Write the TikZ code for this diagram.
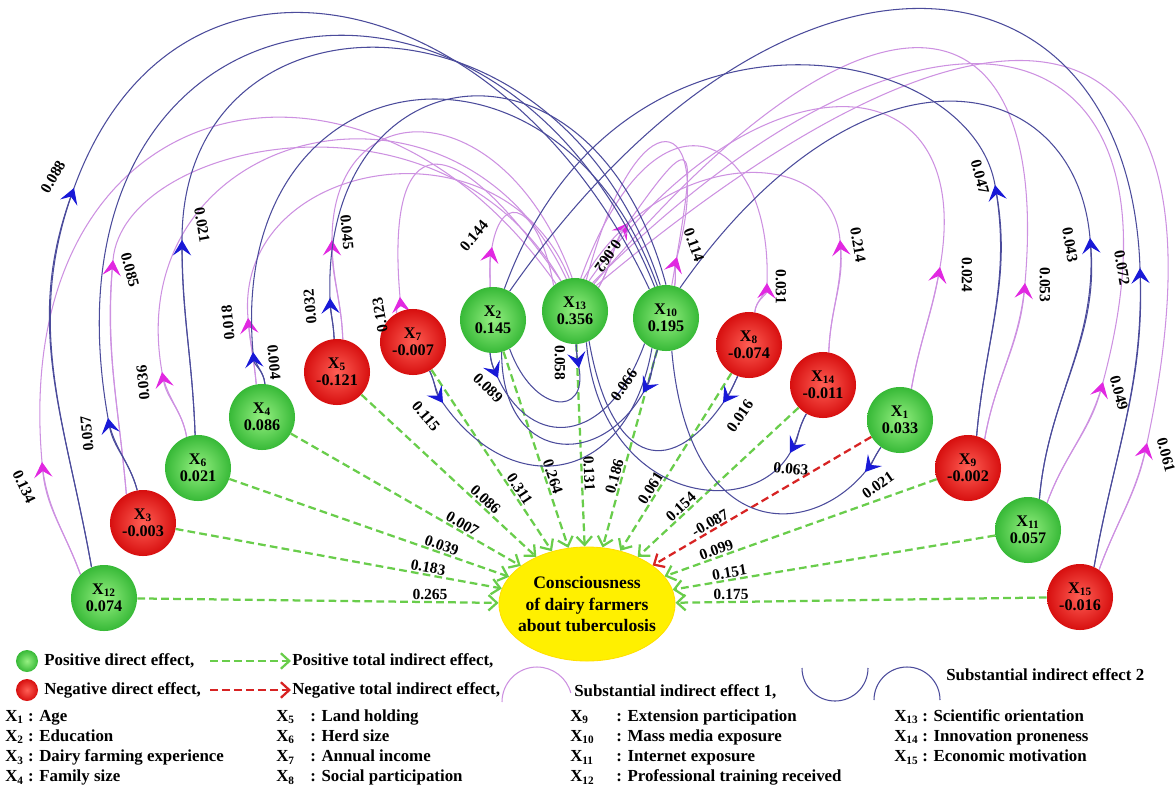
\documentclass[tikz,border=0pt]{standalone}
\usepackage{fontspec}
\setmainfont{Liberation Serif}
\usetikzlibrary{arrows.meta,shapes.geometric,backgrounds}
\definecolor{nodegreen}{RGB}{55,185,55}
\definecolor{lightgreen}{RGB}{150,240,130}
\definecolor{nodered}{RGB}{215,15,15}
\definecolor{lightred}{RGB}{255,95,85}
\definecolor{dashgreen}{RGB}{105,205,75}
\definecolor{dashred}{RGB}{215,35,35}
\definecolor{pinkline}{RGB}{205,145,225}
\definecolor{pinkhead}{RGB}{225,40,225}
\definecolor{blueline}{RGB}{75,75,155}
\definecolor{bluehead}{RGB}{25,25,215}
\definecolor{ellyellow}{RGB}{255,240,0}
\begin{document}
\begin{tikzpicture}[x=0.025cm, y=0.025cm, font=\bfseries]
	\tikzstyle{posnode} = [circle, minimum size=1.65cm, inner sep=0pt, align=center, shading=radial, inner color=lightgreen, outer color=nodegreen, font=\bfseries\fontsize{11.5}{12.5}\selectfont]
	\tikzstyle{negnode} = [posnode, inner color=lightred, outer color=nodered]
	\tikzstyle{posarrow} = [draw=dashgreen, line width=1.6pt, dash pattern=on 5.5pt off 3pt, -{Straight Barb[length=6pt, width=11pt]}]
	\tikzstyle{negarrow} = [posarrow, draw=dashred]
	\tikzstyle{efflabel} = [sloped, above, inner sep=0.8pt, font=\bfseries\fontsize{11}{12}\selectfont]
	\tikzstyle{arclabel} = [inner sep=0pt, font=\bfseries\fontsize{11}{12}\selectfont]
	\tikzstyle{pinkarc} = [draw=pinkline, line width=0.75pt]
	\tikzstyle{bluearc} = [draw=blueline, line width=0.75pt]
	\tikzstyle{pinktip} = [-{Stealth[length=11pt, width=13pt, inset=4.5pt, color=pinkhead]}]
	\tikzstyle{bluetip} = [-{Stealth[length=11pt, width=13pt, inset=4.5pt, color=bluehead]}]
	\tikzstyle{legtext} = [inner sep=0pt, font=\bfseries\fontsize{12}{14}\selectfont]

	\useasboundingbox (0,0) rectangle (1176,-796);

	% variables with their direct effects
	\foreach \n/\x/\y/\v/\s in {12/104/598/0.074/posnode, 3/143/523/-0.003/negnode, 6/198/468/0.021/posnode, 4/262/417/0.086/posnode, 5/337/372/-0.121/negnode, 7/413/342/-0.007/negnode, 2/493/320/0.145/posnode, 13/575/311/0.356/posnode, 10/666/318/0.195/posnode, 8/749/345/-0.074/negnode, 14/823/385/-0.011/negnode, 1/900/420/0.033/posnode, 9/968/468/-0.002/negnode, 11/1028/530/0.057/posnode, 15/1080/597/-0.016/negnode}
		\node[\s] (X\n) at (\x,-\y) {X\textsubscript{\n}\\\v};

	\node[ellipse, minimum width=4.4cm, minimum height=2.85cm, fill=ellyellow, draw=ellyellow!85!orange, line width=0.6pt] (C) at (587,-604) {};
	\node[align=center, font=\bfseries\fontsize{12.5}{15.5}\selectfont] (Ctext) at (C) {Consciousness\\of dairy farmers\\about tuberculosis};

	\begin{scope}[on background layer]
		% total indirect effects
		\foreach \n/\p/\v in {12/0.81/0.265, 3/0.77/0.183, 6/0.75/0.039, 4/0.73/0.007, 5/0.68/0.086, 7/0.68/0.311, 2/0.65/0.264, 13/0.64/0.131, 10/0.65/0.186, 8/0.67/0.061, 14/0.70/0.154, 9/0.80/0.099, 11/0.82/0.151, 15/0.85/0.175}
			\draw[posarrow] (X\n) -- (C) node[efflabel, pos=\p] {\v};
		\draw[negarrow] (X1) -- (C) node[efflabel, pos=0.72] {-0.087};

		% substantial indirect effect 1
		\foreach \src/\so/\ax/\ay/\ta/\la/\tgt/\tb/\lb [evaluate=\ta as \tin using \ta+180] in {
			X12.135/110/42/462/95/380/X13.125/125/340, X3.120/95/113/260/85/120/X13.115/120/240,
			X6.110/100/162/372/100/250/X13.105/115/260, X4.100/95/248/318/95/160/X13.100/112/180,
			X5.80/92/332/240/90/150/X13.95/110/200, X7.120/95/400/297/95/150/X13.115/125/220,
			X2.95/90/492/247/80/60/X13.130/100/80, X13.45/60/628/223/55/120/X10.80/80/150,
			X10.75/80/677/257/75/150/X13.70/75/200, X8.80/85/767/283/88/150/X13.80/70/220,
			X14.80/88/840/240/95/100/X13.75/60/150, X1.70/80/940/267/80/220/X13.65/55/280,
			X9.60/80/1025/283/85/300/X13.55/50/430, X11.55/70/1103/382/75/380/X13.58/45/480,
			X15.55/70/1147/443/78/450/X13.50/40/550}
		{
			\draw[pinkarc] (\src) to[out=\so, in=\tin] (\ax,-\ay) .. controls +(\ta:\la) and +(\tb:\lb) .. (\tgt);
			\draw[pinkarc, pinktip] (\src) to[out=\so, in=\tin] (\ax,-\ay);
		}

		% substantial indirect effect 2
		\foreach \src/\so/\ax/\ay/\ta/\la/\tgt/\tb/\lb [evaluate=\ta as \tin using \ta+180] in {
			X12.112/100/74/188/70/300/X10.120/115/340, X3.100/105/108/418/100/450/X10.110/112/420,
			X6.95/92/182/240/90/260/X10.100/108/330, X4.85/95/253/352/95/300/X10.105/110/300,
			X5.95/92/330/298/92/250/X10.90/105/280, X9.75/85/995/185/100/150/X2.70/70/330,
			X11.70/85/1090/238/95/170/X10.65/55/320, X15.65/80/1140/268/92/330/X2.60/55/480,
			X7.-60/-65/443/403/-55/120/X10.-115/-100/140, X2.-95/-85/498/378/-65/80/X10.-130/-110/110,
			X13.-88/-88/579/368/-80/50/X2.-60/-70/70, X10.-105/-110/643/393/-120/90/X2.-75/-90/110,
			X8.-110/-115/723/403/-125/100/X13.-65/-80/120, X14.-120/-120/790/453/-120/80/X13.-70/-85/160,
			X1.-125/-125/865/472/-130/90/X10.-80/-85/190}
		{
			\draw[bluearc] (\src) to[out=\so, in=\tin] (\ax,-\ay) .. controls +(\ta:\la) and +(\tb:\lb) .. (\tgt);
			\draw[bluearc, bluetip] (\src) to[out=\so, in=\tin] (\ax,-\ay);
		}
	\end{scope}

	% values on the arcs
	\foreach \lx/\ly/\lr/\lv [count=\i] in {24/487/-65/0.134, 130/270/-75/0.085, 143/383/95/0.036, 228/323/95/0.018, 347/232/-85/0.045, 380/315/100/0.123, 474/236/50/0.144, 608/256/-125/0.062, 694/245/-70/0.114, 781/287/-90/0.031, 858/245/-80/0.214, 967/275/-90/0.024, 1045/285/-90/0.053, 1119/393/-75/0.049, 1166/455/-75/0.061,
		53/177/60/0.088, 87/434/95/0.057, 202/225/-80/0.021, 274/362/-85/0.004, 310/307/95/0.032, 980/177/-75/0.047, 1070/245/-80/0.043, 1122/268/-80/0.072,
		426/416/-50/0.115, 488/388/-45/0.089, 560/363/-90/0.058, 624/385/55/0.066, 740/416/55/0.016, 791/469/-5/0.063, 878/485/35/0.021}
		\node[arclabel, rotate=\lr] (arcl\i) at (\lx,-\ly) {\lv};

	% legend
	\node[circle, minimum size=0.55cm, shading=radial, inner color=lightgreen, outer color=nodegreen] (kpos) at (27,-661) {};
	\node[legtext, anchor=west] (kpost) at (44,-661) {Positive direct effect,};
	\node[circle, minimum size=0.55cm, shading=radial, inner color=lightred, outer color=nodered] (kneg) at (27,-690) {};
	\node[legtext, anchor=west] (knegt) at (44,-690) {Negative direct effect,};
	\coordinate (kga) at (210,-661);
	\coordinate (kgb) at (291,-661);
	\draw[posarrow] (kga) -- (kgb);
	\node[legtext, anchor=west] (kgt) at (292,-661) {Positive total indirect effect,};
	\coordinate (kra) at (210,-690);
	\coordinate (krb) at (291,-690);
	\draw[negarrow] (kra) -- (krb);
	\node[legtext, anchor=west] (krt) at (292,-690) {Negative total indirect effect,};
	\draw[pinkarc] (502,-702) arc[start angle=180, end angle=15, radius=35];
	\node[legtext, anchor=west] (k1t) at (574,-692) {Substantial indirect effect 1,};
	\draw[bluearc] (802,-668) arc[start angle=180, end angle=360, radius=33];
	\draw[bluearc] (874,-700) arc[start angle=180, end angle=0, radius=33];
	\node[legtext, anchor=west] (k2t) at (946,-675) {Substantial indirect effect 2};

	\foreach \i/\txt [count=\k] in {1/Age, 2/Education, 3/Dairy farming experience, 4/Family size}
		\node[legtext, anchor=base west] (key\i) at (5,{-721-20.3*(\k-1)}) {X\textsubscript{\i} : \txt};
	\foreach \i/\txt [count=\k] in {5/Land holding, 6/Herd size, 7/Annual income, 8/Social participation}
	{
		\node[legtext, anchor=base west] (key\i) at (276,{-721-20.3*(\k-1)}) {X\textsubscript{\i}};
		\node[legtext, anchor=base west] (def\i) at (310,{-721-20.3*(\k-1)}) {: \txt};
	}
	\foreach \i/\txt [count=\k] in {9/Extension participation, 10/Mass media exposure, 11/Internet exposure, 12/Professional training received}
	{
		\node[legtext, anchor=base west] (key\i) at (570,{-721-20.3*(\k-1)}) {X\textsubscript{\i}};
		\node[legtext, anchor=base west] (def\i) at (616,{-721-20.3*(\k-1)}) {: \txt};
	}
	\foreach \i/\txt [count=\k] in {13/Scientific orientation, 14/Innovation proneness, 15/Economic motivation}
	{
		\node[legtext, anchor=base west] (key\i) at (894,{-721-20.3*(\k-1)}) {X\textsubscript{\i}};
		\node[legtext, anchor=base west] (def\i) at (922,{-721-20.3*(\k-1)}) {: \txt};
	}
\end{tikzpicture}
\end{document}
